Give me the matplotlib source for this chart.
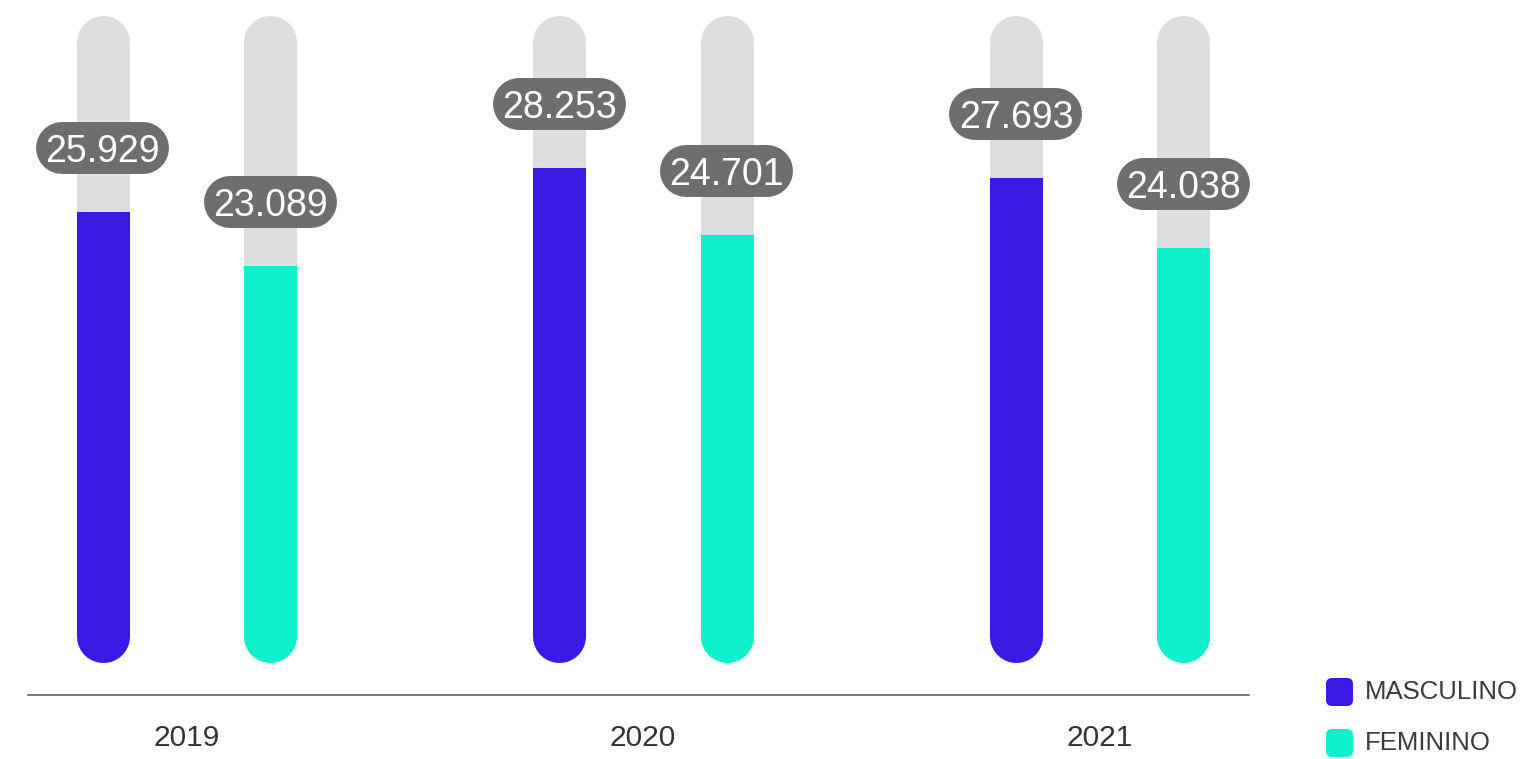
import matplotlib
matplotlib.use("Agg")
import matplotlib.pyplot as plt
from matplotlib.patches import Rectangle, FancyBboxPatch
from matplotlib.transforms import IdentityTransform

plt.rcParams['font.family'] = ['Liberation Sans', 'DejaVu Sans']

# Data
years = ['2019', '2020', '2021']
masculino = [25.929, 28.253, 27.693]
feminino = [23.089, 24.701, 24.038]
series_names = ['MASCULINO', 'FEMININO']
track_max = 36.26

# Style
col_masc = '#3a1be6'
col_fem = '#10f0cc'
col_track = '#dcdddf'
col_label = '#6d6e70'
col_text = '#333333'
offset = 0.1834
bar_lw = 38.2      # 53 px
pill_lw = 37.4     # 52 px
px_y = 19.07       # pixels per y unit
px_x = 456.6       # pixels per x unit

fig = plt.figure(figsize=(15.22, 7.59), dpi=100)
ax = fig.add_axes([0, 0, 1, 1])
ax.set_xlim(-186.5 / px_x, (1522 - 186.5) / px_x)
ax.set_ylim(-52.5 / px_y, 706.5 / px_y)
ax.axis('off')

cap = 26.5 / px_y    # round cap length in y units
bar_base = 2.333 + cap
label_gap = 64 / px_y
pill_half = 40.5 / px_x


def fmt(v):
    return f'{v:.3f}'


for i, yr in enumerate(years):
    for x, val, col in [(i - offset, masculino[i], col_masc), (i + offset, feminino[i], col_fem)]:
        ax.plot([x, x], [bar_base, track_max - cap], color=col_track, lw=bar_lw,
                solid_capstyle='round', zorder=1)
        ln, = ax.plot([x, x], [bar_base, val], color=col, lw=bar_lw,
                      solid_capstyle='round', zorder=2)
        clip = Rectangle((x - 0.2, -5), 0.4, val + 5, transform=ax.transData)
        ln.set_clip_path(clip)
        ly = val + label_gap
        ax.plot([x - pill_half, x + pill_half], [ly, ly], color=col_label, lw=pill_lw,
                solid_capstyle='round', zorder=3)
        ax.text(x, ly, fmt(val), color='white', fontsize=27, ha='center', va='center_baseline',
                zorder=4)
    ax.text(i, -31.5 / px_y, yr, color=col_text, fontsize=21.5, ha='center', va='center')

ax.axhline(11.5 / px_y, xmin=28 / 1522, xmax=1249 / 1522, color='#555555', lw=1.1, zorder=0)

# Legend (pixel coordinates, origin bottom-left)
for j, (name, col) in enumerate(zip(series_names, [col_masc, col_fem])):
    cy = 759 - (692 + 51 * j)
    box = FancyBboxPatch((1326 + 5, cy - 14 + 5), 27 - 10, 28 - 10,
                         boxstyle='round,pad=5,rounding_size=6',
                         transform=IdentityTransform(), fc=col, ec='none')
    fig.patches.append(box)
    fig.text(1365 / 1522, cy / 759, name, color='#3a3a3a', fontsize=18.5, ha='left',
             va='center')

fig.savefig('out.png', dpi=100)
